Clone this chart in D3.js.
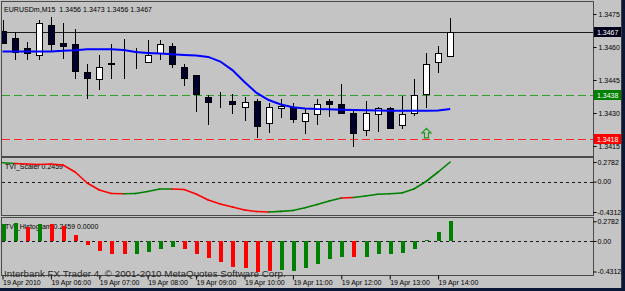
<!DOCTYPE html>
<html>
<head>
<meta charset="utf-8">
<title>EURUSDm,M15</title>
<script src="https://cdn.jsdelivr.net/npm/d3@7"></script>
<style>
  body { margin: 0; background: #0b1736; }
  svg { display: block; }
  text { font-family: "Liberation Sans", Arial, sans-serif; font-size: 7px; fill: #000; }
</style>
</head>
<body>
<script>
// ---- data ----
var symbol = "EURUSDm,M15";
var times = ["05:00","05:15","05:30","05:45","06:00","06:15","06:30","06:45",
             "07:00","07:15","07:30","07:45","08:00","08:15","08:30","08:45",
             "09:00","09:15","09:30","09:45","10:00","10:15","10:30","10:45",
             "11:00","11:15","11:30","11:45","12:00","12:15","12:30","12:45",
             "13:00","13:15","13:30","13:45","14:00","14:15"];
var opens  = [1.34674,1.34642,1.34594,1.34564,1.34700,1.34617,1.34612,1.34485,
              1.34453,1.34526,1.34530,1.34544,1.34530,1.34571,1.34605,1.34510,
              1.34473,1.34374,1.34356,1.34355,1.34329,1.34355,1.34253,1.34321,
              1.34329,1.34264,1.34294,1.34355,1.34341,1.34301,1.34223,1.34294,
              1.34321,1.34245,1.34301,1.34385,1.34530,1.3456];
var highs  = [1.34723,1.34670,1.34624,1.34723,1.34735,1.34708,1.34680,1.34521,
              1.34564,1.34612,1.34635,1.34594,1.34632,1.34632,1.34617,1.34523,
              1.34473,1.34382,1.34397,1.34386,1.34371,1.34362,1.34344,1.34362,
              1.34344,1.34321,1.34362,1.34362,1.34432,1.34318,1.34355,1.34329,
              1.34329,1.34377,1.34453,1.34571,1.34605,1.3473];
var lows   = [1.34617,1.34545,1.34545,1.34545,1.34580,1.34548,1.34458,1.34370,
              1.34408,1.34460,1.34458,1.34503,1.34530,1.34545,1.34508,1.34427,
              1.34309,1.34249,1.34326,1.34299,1.34268,1.34190,1.34215,1.34280,
              1.34258,1.34208,1.34249,1.34287,1.34299,1.34150,1.34200,1.34220,
              1.34230,1.34230,1.34291,1.34329,1.34488,1.3456];
var closes = [1.34617,1.34579,1.34571,1.34710,1.34612,1.34604,1.34492,1.34460,
              1.34510,1.34524,1.34532,1.34545,1.34564,1.34612,1.34521,1.34460,
              1.34385,1.34351,1.34355,1.34341,1.34351,1.34241,1.34329,1.34333,
              1.34271,1.34301,1.34340,1.34341,1.34301,1.34210,1.34301,1.34321,
              1.34230,1.34294,1.34382,1.34521,1.34571,1.3467];
var maValues = [1.34579,1.34579,1.34579,1.34579,1.34580,1.34583,1.34585,1.34590,
                1.34590,1.34590,1.34586,1.34577,1.34573,1.34570,1.34567,1.34564,
                1.34561,1.34555,1.34534,1.34495,1.34441,1.34391,1.34359,1.34339,
                1.34326,1.34321,1.34318,1.34317,1.34315,1.34314,1.34312,1.34311,
                1.34310,1.34310,1.34310,1.34310,1.34311,1.34318];
var levelPrices = [1.3438, 1.3418];
var signalUp = [{ bar: 35, price: 1.3423 }];

var scalerValues = [0.2683,0.2569,0.2498,0.2427,0.2498,0.2356,0.1363,-0.0197,
                    -0.1191,-0.1687,-0.1716,-0.1687,-0.1403,-0.1049,-0.1049,-0.1120,
                    -0.1758,-0.2609,-0.3177,-0.3603,-0.4028,-0.4250,-0.4312,-0.4220,
                    -0.4099,-0.3702,-0.3248,-0.2751,-0.2326,-0.2255,-0.2042,-0.1801,
                    -0.1716,-0.1616,-0.1049,0.0015,0.1363,0.2782];
// trend of the segment that ends on each bar: 1 up (green), -1 down (red)
var scalerTrend = [1,1,-1,-1,-1,-1,-1,-1,-1,-1,-1,1,1,1,1,-1,
                   -1,-1,-1,-1,-1,-1,-1,1,1,1,1,1,1,-1,1,1,
                   1,1,1,1,1,1];
var histValues = [0.247,0.256,0.199,0.247,0.247,0.209,0.082,-0.059,
                  -0.140,-0.177,-0.186,-0.186,-0.154,-0.116,-0.092,-0.116,
                  -0.177,-0.247,-0.299,-0.364,-0.387,-0.4312,-0.422,-0.412,
                  -0.422,-0.388,-0.328,-0.261,-0.225,-0.233,-0.225,-0.186,
                  -0.177,-0.165,-0.116,0.011,0.129,0.2782];
var histTrend = [1,1,-1,1,-1,-1,-1,-1,-1,-1,-1,1,1,1,1,-1,
                 -1,-1,-1,-1,-1,-1,-1,1,1,1,1,1,1,-1,1,1,
                 1,1,1,1,1,1];

var priceTicks = [1.3475, 1.3460, 1.3445, 1.3430, 1.3415];
var indTicks = [0.2782, 0, -0.4312];
var indLabels = ["0.2782", "0.00", "-0.4312"];
var timeLabels = ["19 Apr 2010","19 Apr 06:00","19 Apr 07:00","19 Apr 08:00","19 Apr 09:00",
                  "19 Apr 10:00","19 Apr 11:00","19 Apr 12:00","19 Apr 13:00","19 Apr 14:00"];
var timeTickBars = ["05:00","06:00","07:00","08:00","09:00","10:00","11:00","12:00","13:00","14:00"]
                   .map(function(t){ return times.indexOf(t); });

// ---- layout ----
var width = 625, height = 291;
var left = 1.5, right = 593.5;
var mainTop = 1.5, mainBottom = 156.5;
var ind1Top = 157.5, ind1Bottom = 215.5;
var ind2Top = 217.5, ind2Bottom = 275.5;
var green = "#008000", red = "#ff0000";

var svg = d3.select("body").append("svg")
        .attr("width", width)
        .attr("height", height);

svg.append("rect").attr("width", 621).attr("height", 288).attr("fill", "#c4c4c4");

var n = times.length;
var x = d3.scaleLinear().domain([0, n - 1]).range([2.5, 450.2]);
var y = d3.scaleLinear().domain([1.3475, 1.3415]).range([14, 146]);
var y1 = d3.scaleLinear().domain([0.2782, -0.4312]).range([162, 212]);
var y2 = d3.scaleLinear().domain([0.2782, -0.4312]).range([221.3, 271.5]);

function px(i){ return Math.round(x(i)) + 0.5; }
function crisp(v){ return Math.round(v) + 0.5; }

var defs = svg.append("defs");
function clip(id, top, bottom){
    defs.append("clipPath").attr("id", id).append("rect")
        .attr("x", left + 0.5).attr("y", top + 0.5)
        .attr("width", right - left - 1).attr("height", bottom - top - 1);
    return "url(#" + id + ")";
}

function renderFrames(){
    [[mainTop, mainBottom], [ind1Top, ind1Bottom], [ind2Top, ind2Bottom]].forEach(function(p){
        svg.append("rect")
            .attr("x", left).attr("y", p[0])
            .attr("width", right - left).attr("height", p[1] - p[0])
            .attr("fill", "none").attr("stroke", "#4a4a4a")
            .attr("shape-rendering", "crispEdges");
    });
    svg.append("line").attr("x1", 621.5).attr("x2", 621.5).attr("y1", 0).attr("y2", 288)
        .attr("stroke", "#3a3a3a");
}

function renderMain(){
    var g = svg.append("g").attr("clip-path", clip("clipMain", mainTop, mainBottom));

    svg.append("text").attr("x", 4).attr("y", 11.5)
        .attr("textLength", 148).attr("lengthAdjust", "spacing")
        .style("white-space", "pre")
        .text(symbol + "  " + [opens[n-1], highs[n-1], lows[n-1], closes[n-1]]
              .map(d3.format(".4f")).join(" "));

    // level lines
    var levelColors = ["#2f9f2f", "#ff2a2a"];
    levelPrices.forEach(function(p, k){
        g.append("line")
            .attr("x1", left).attr("x2", right)
            .attr("y1", crisp(y(p))).attr("y2", crisp(y(p)))
            .style("stroke", levelColors[k])
            .style("stroke-width", 1)
            .style("stroke-dasharray", "8,4")
            .attr("shape-rendering", "crispEdges");
    });
    g.append("line")
        .attr("x1", left).attr("x2", right)
        .attr("y1", crisp(y(closes[n-1]))).attr("y2", crisp(y(closes[n-1])))
        .attr("stroke", "#1a1a1a")
        .attr("shape-rendering", "crispEdges");

    var bars = g.selectAll("g.candle").data(d3.range(n)).enter()
        .append("g").classed("candle", true)
        .attr("shape-rendering", "crispEdges");
    bars.append("line")
        .attr("x1", px).attr("x2", px)
        .attr("y1", function(i){ return Math.round(y(highs[i])); })
        .attr("y2", function(i){ return Math.round(y(lows[i])) + 1; })
        .attr("stroke", "#000");
    bars.append("rect")
        .attr("x", function(i){ return px(i) - 3; })
        .attr("y", function(i){ return crisp(y(Math.max(opens[i], closes[i]))); })
        .attr("width", 6)
        .attr("height", function(i){
            return Math.round(y(Math.min(opens[i], closes[i]))) - Math.round(y(Math.max(opens[i], closes[i])));
        })
        .attr("fill", function(i){ return closes[i] >= opens[i] ? "#fff" : "#00002a"; })
        .attr("stroke", "#000");

    g.append("path")
        .datum(d3.range(n))
        .attr("d", d3.line().x(function(i){ return x(i); }).y(function(i){ return y(maValues[i]); }))
        .attr("fill", "none")
        .attr("stroke", "#0000ff")
        .attr("stroke-width", 2);

    // signal arrows
    g.selectAll("path.arrow").data(signalUp).enter()
        .append("path").classed("arrow", true)
        .attr("transform", function(d){ return "translate(" + px(d.bar) + "," + y(d.price) + ")"; })
        .attr("d", "M0,0 L4.5,4.5 L2,4.5 L2,9.5 L-2,9.5 L-2,4.5 L-4.5,4.5 Z")
        .attr("fill", "none")
        .attr("stroke", "#1f9a1f")
        .attr("stroke-width", 1.2);

    // price axis
    var axis = d3.axisRight(y).tickValues(priceTicks).tickFormat(d3.format(".4f"))
                 .tickSize(3).tickPadding(2);
    var ag = svg.append("g").attr("transform", "translate(" + right + ",0)").call(axis);
    ag.select(".domain").remove();
    ag.selectAll("text").attr("fill", "#000");

    var boxColors = [green, red];
    var boxes = [{p: closes[n-1], c: "#000018"}].concat(levelPrices.map(function(p, k){
        return {p: p, c: boxColors[k]};
    }));
    boxes.forEach(function(b){
        var yy = Math.round(y(b.p));
        svg.append("rect").attr("x", 594).attr("y", yy - 5).attr("width", 27).attr("height", 10)
            .attr("fill", b.c);
        svg.append("text").attr("x", 597).attr("y", yy + 2.5)
            .style("fill", "#fff").text(d3.format(".4f")(b.p));
    });
}

function renderIndAxis(scale){
    var axis = d3.axisRight(scale).tickValues(indTicks)
                 .tickFormat(function(d, i){ return indLabels[i]; })
                 .tickSize(3).tickPadding(1);
    var ag = svg.append("g").attr("transform", "translate(" + right + ",0)").call(axis);
    ag.select(".domain").remove();
    ag.selectAll("text").attr("fill", "#000");
}

function zeroLine(scale){
    svg.append("line")
        .attr("x1", left).attr("x2", right)
        .attr("y1", crisp(scale(0))).attr("y2", crisp(scale(0)))
        .attr("stroke", "#1a1a1a")
        .attr("stroke-dasharray", "3,3")
        .attr("shape-rendering", "crispEdges");
}

function renderScaler(){
    svg.append("text").attr("x", 5).attr("y", 168.5).text("TVI_Scaler 0.2459");
    zeroLine(y1);
    var g = svg.append("g").attr("clip-path", clip("clipInd1", ind1Top, ind1Bottom));
    var segs = d3.range(1, n);
    g.selectAll("line.seg").data(segs).enter()
        .append("line").classed("seg", true)
        .attr("x1", function(i){ return x(i - 1); })
        .attr("y1", function(i){ return y1(scalerValues[i - 1]); })
        .attr("x2", function(i){ return x(i); })
        .attr("y2", function(i){ return y1(scalerValues[i]); })
        .attr("stroke", function(i){ return scalerTrend[i] > 0 ? green : red; })
        .attr("stroke-width", 1.6)
        .attr("stroke-linecap", "round");
    renderIndAxis(y1);
}

function renderHistogram(){
    svg.append("text").attr("x", 5).attr("y", 228.5).text("TVI_Histogram 0.2459 0.0000");
    zeroLine(y2);
    var g = svg.append("g").attr("clip-path", clip("clipInd2", ind2Top, ind2Bottom));
    var zero = y2(0);
    g.selectAll("rect.bar").data(d3.range(n)).enter()
        .append("rect").classed("bar", true)
        .attr("x", function(i){ return Math.round(x(i)) - 1; })
        .attr("y", function(i){ return Math.min(y2(histValues[i]), zero); })
        .attr("width", 4)
        .attr("height", function(i){ return Math.abs(y2(histValues[i]) - zero); })
        .attr("fill", function(i){ return histTrend[i] > 0 ? green : red; })
        .attr("shape-rendering", "crispEdges");
    renderIndAxis(y2);
}

function renderTimeAxis(){
    var axis = d3.axisBottom(x).tickValues(timeTickBars)
                 .tickFormat(function(d, i){ return timeLabels[i]; })
                 .tickSize(4).tickPadding(1);
    var ag = svg.append("g").attr("transform", "translate(0," + ind2Bottom + ")").call(axis);
    ag.select(".domain").remove();
    ag.selectAll("text").attr("fill", "#000").attr("text-anchor", "start").attr("x", 0);
}

renderFrames();
renderMain();
renderScaler();
renderHistogram();
renderTimeAxis();

svg.append("text").attr("x", 4).attr("y", 276.5)
    .style("font-size", "9.8px").style("fill", "#2a2a2a")
    .text("Interbank FX Trader 4, \u00a9 2001-2010 MetaQuotes Software Corp.");
</script>
</body>
</html>
